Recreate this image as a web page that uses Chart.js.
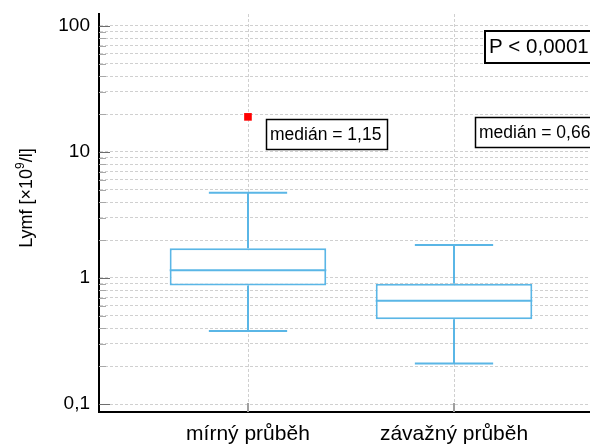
<!DOCTYPE html>
<html>
<head>
<meta charset="utf-8">
<script src="https://cdn.jsdelivr.net/npm/chart.js@4/dist/chart.umd.min.js"></script>
<style>
  html, body { margin: 0; padding: 0; background: #fff; }
  canvas { display: block; }
</style>
</head>
<body>
<canvas id="chart" width="590" height="444"></canvas>
<script>
// Lymphocyte counts by disease course (box-and-whisker summary)
const categories = ['mírný průběh', 'závažný průběh'];
const whiskerLow = [0.38, 0.21];
const quartile1 = [0.87, 0.47];
const medians = [1.15, 0.66];
const quartile3 = [1.72, 0.90];
const whiskerHigh = [4.75, 1.83];
const outlierGroups = [0];
const outlierValues = [19];
const decadeTicks = [0.1, 1, 10, 100];
const pValueText = 'P < 0,0001';
const medianPrefix = 'medián = ';

const FONT = "'Liberation Sans', Arial, sans-serif";
const BOX_COLOR = '#5ab6e6';
const GRID_COLOR = '#d0d0d0';

const fmt = v => String(v).replace('.', ',');
const fmtMedian = v => v.toFixed(2).replace('.', ',');

// minor + major tick values for the logarithmic axis
const yTickValues = [];
decadeTicks.forEach((d, i) => {
  if (i === decadeTicks.length - 1) { yTickValues.push(d); return; }
  for (let m = 1; m <= 9; m++) yTickValues.push(d * m);
});
const isDecade = v => decadeTicks.some(d => Math.abs(v - d) / d < 1e-6);

// whiskers, medians, inner tick marks, annotation boxes and the axis title
const boxPlotExtras = {
  id: 'boxPlotExtras',
  beforeDatasetsDraw(chart) {
    const { ctx, chartArea, scales: { x, y } } = chart;
    ctx.save();
    // vertical dashed grid lines at each category
    categories.forEach((c, i) => {
      const px = Math.round(x.getPixelForValue(i + 1)) + 0.5;
      ctx.strokeStyle = GRID_COLOR;
      ctx.lineWidth = 1;
      ctx.setLineDash([3, 2]);
      ctx.beginPath();
      ctx.moveTo(px, chartArea.top);
      ctx.lineTo(px, chartArea.bottom);
      ctx.stroke();
    });
    ctx.setLineDash([]);
    // y-axis tick marks pointing into the plot
    yTickValues.forEach(v => {
      const py = Math.round(y.getPixelForValue(v)) + 0.5;
      const major = isDecade(v);
      ctx.strokeStyle = major ? '#6e6e6e' : '#a8a8a8';
      ctx.lineWidth = 1;
      ctx.beginPath();
      ctx.moveTo(chartArea.left, py);
      ctx.lineTo(chartArea.left + (major ? 11 : 7), py);
      ctx.stroke();
    });
    // x-axis tick marks pointing up
    categories.forEach((c, i) => {
      const px = Math.round(x.getPixelForValue(i + 1));
      ctx.strokeStyle = '#a0a0a0';
      ctx.lineWidth = 2;
      ctx.beginPath();
      ctx.moveTo(px, chartArea.bottom);
      ctx.lineTo(px, chartArea.bottom - 9);
      ctx.stroke();
    });
    ctx.restore();
  },
  afterDatasetsDraw(chart) {
    const { ctx, chartArea, scales: { x, y } } = chart;
    const meta = chart.getDatasetMeta(0);
    ctx.save();
    ctx.strokeStyle = BOX_COLOR;
    ctx.lineWidth = 2;
    categories.forEach((c, i) => {
      const bar = meta.data[i];
      const cx = Math.round(x.getPixelForValue(i + 1));
      const half = bar.width / 2;
      const cap = bar.width / 4;
      const yMed = y.getPixelForValue(medians[i]);
      const yQ1 = y.getPixelForValue(quartile1[i]);
      const yQ3 = y.getPixelForValue(quartile3[i]);
      const yLo = y.getPixelForValue(whiskerLow[i]);
      const yHi = y.getPixelForValue(whiskerHigh[i]);
      ctx.beginPath();
      // median
      ctx.moveTo(cx - half, yMed); ctx.lineTo(cx + half, yMed);
      // upper whisker
      ctx.moveTo(cx, yQ3); ctx.lineTo(cx, yHi);
      ctx.moveTo(cx - cap, yHi); ctx.lineTo(cx + cap, yHi);
      // lower whisker
      ctx.moveTo(cx, yQ1); ctx.lineTo(cx, yLo);
      ctx.moveTo(cx - cap, yLo); ctx.lineTo(cx + cap, yLo);
      ctx.stroke();
    });

    // median annotation boxes
    ctx.font = '17.5px ' + FONT;
    ctx.textBaseline = 'middle';
    ctx.textAlign = 'left';
    categories.forEach((c, i) => {
      const left = Math.round(x.getPixelForValue(i + 1)) + 18 + i * 3;
      const top = chartArea.top + 105 - i * 2;
      const w = 121, h = 30;
      ctx.fillStyle = '#fff';
      ctx.fillRect(left, top, w, h);
      ctx.strokeStyle = '#000';
      ctx.lineWidth = 1.5;
      ctx.strokeRect(left + 0.5, top + 0.5, w, h);
      ctx.fillStyle = '#000';
      ctx.fillText(medianPrefix + fmtMedian(medians[i]), left + 4, top + h / 2 + 1);
    });

    // p-value box
    const pLeft = 484, pTop = chartArea.top + 16;
    ctx.fillStyle = '#fff';
    ctx.fillRect(pLeft, pTop, 130, 33);
    ctx.strokeStyle = '#000';
    ctx.lineWidth = 2;
    ctx.strokeRect(pLeft + 1, pTop + 1, 130, 32);
    ctx.fillStyle = '#000';
    ctx.font = '20.5px ' + FONT;
    ctx.fillText(pValueText, pLeft + 5, pTop + 17);

    // rotated y-axis title with superscript exponent
    ctx.save();
    ctx.translate(27, 198);
    ctx.rotate(-Math.PI / 2);
    ctx.fillStyle = '#000';
    ctx.textBaseline = 'middle';
    const partA = 'Lymf [×10', partB = '9', partC = '/l]';
    ctx.font = '18px ' + FONT;
    const wA = ctx.measureText(partA).width;
    const wC = ctx.measureText(partC).width;
    ctx.font = '12px ' + FONT;
    const wB = ctx.measureText(partB).width;
    const total = wA + wB + wC;
    let tx = -total / 2;
    ctx.font = '18px ' + FONT;
    ctx.fillText(partA, tx, 0); tx += wA;
    ctx.font = '12px ' + FONT;
    ctx.fillText(partB, tx, -6); tx += wB;
    ctx.font = '18px ' + FONT;
    ctx.fillText(partC, tx, 0);
    ctx.restore();

    ctx.restore();
  }
};

new Chart(document.getElementById('chart'), {
  data: {
    datasets: [
      {
        type: 'bar',
        data: categories.map((c, i) => ({ x: i + 1, y: [quartile1[i], quartile3[i]] })),
        backgroundColor: '#ffffff',
        borderColor: BOX_COLOR,
        borderWidth: 2,
        borderSkipped: false,
        categoryPercentage: 0.76,
        barPercentage: 1
      },
      {
        type: 'scatter',
        data: outlierGroups.map((g, i) => ({ x: g + 1, y: outlierValues[i] })),
        pointStyle: 'rect',
        radius: 5.4,
        backgroundColor: '#ff0000',
        borderWidth: 0
      }
    ]
  },
  options: {
    responsive: false,
    animation: false,
    layout: { autoPadding: false, padding: { top: 14, right: 0, left: 0, bottom: 0 } },
    plugins: { legend: { display: false }, tooltip: { enabled: false } },
    scales: {
      x: {
        type: 'linear',
        offset: false,
        min: 0.277,
        max: 2.66,
        afterFit(scale) {
          scale.height = 32;
          scale.paddingLeft = 0; scale.paddingRight = 0;
        },
        afterBuildTicks(scale) { scale.ticks = categories.map((c, i) => ({ value: i + 1 })); },
        ticks: {
          callback: v => categories[v - 1] || '',
          font: { family: FONT, size: 21 },
          color: '#000',
          padding: 10,
          maxRotation: 0,
          autoSkip: false
        },
        grid: { drawOnChartArea: false, drawTicks: false, offset: false },
        border: { display: true, color: '#000', width: 2 }
      },
      y: {
        type: 'logarithmic',
        min: 0.0864,
        max: 124.5,
        afterFit(scale) {
          scale.width = 99;
          scale.paddingTop = 0; scale.paddingBottom = 0;
        },
        afterBuildTicks(scale) { scale.ticks = yTickValues.map(v => ({ value: v })); },
        ticks: {
          callback: v => isDecade(v) ? fmt(decadeTicks.find(d => Math.abs(v - d) / d < 1e-6)) : '',
          font: { family: FONT, size: 19 },
          color: '#000',
          padding: 9,
          autoSkip: false
        },
        grid: { color: GRID_COLOR, lineWidth: 1, drawTicks: false },
        border: { display: true, color: '#000', width: 2, dash: [3, 2] }
      }
    }
  },
  plugins: [boxPlotExtras]
});
</script>
</body>
</html>
